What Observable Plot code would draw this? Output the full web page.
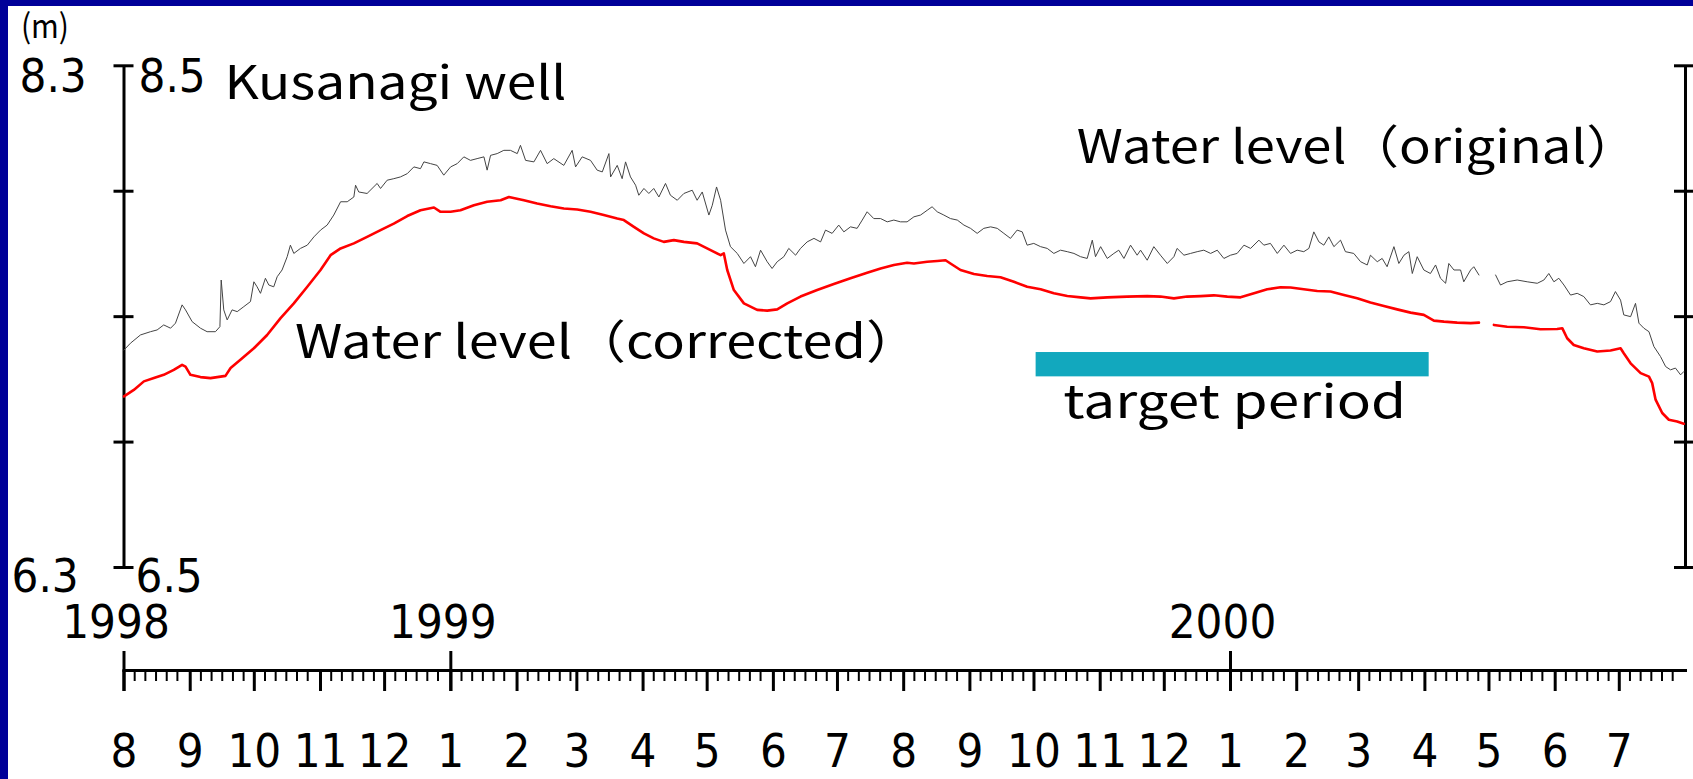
<!DOCTYPE html>
<html>
<head>
<meta charset="utf-8">
<script src="https://cdn.jsdelivr.net/npm/d3@7"></script>
<script src="https://cdn.jsdelivr.net/npm/@observablehq/plot@0.6"></script>
<style>
  html, body { margin: 0; padding: 0; background: #000099; }
  #frame { width: 1693px; height: 779px; box-sizing: border-box; padding: 6px 0 0 8px; background: #000099; overflow: hidden; }
  #chart svg { display: block; background: #ffffff; }
</style>
</head>
<body>
<div id="frame"><div id="chart"></div></div>
<script>
// ---------------- data ----------------
const startDate = "1998-08-01";
const endDate = "2000-08-01";
const yDomain = [6.5, 8.5];
const yTicks = [6.5, 7.0, 7.5, 8.0, 8.5];
const yLabelValues = [8.5, 6.5];
const yLabelsInner = ["8.5", "6.5"];
const yLabelsOuter = ["8.3", "6.3"];
const unitLabel = "(m)";

const yearTickDates = ["1998-08-01", "1999-01-01", "2000-01-01"];
const yearLabels = ["1998", "1999", "2000"];
const monthTickDates = ["1998-08-01","1998-09-01","1998-10-01","1998-11-01","1998-12-01",
  "1999-01-01","1999-02-01","1999-03-01","1999-04-01","1999-05-01","1999-06-01","1999-07-01",
  "1999-08-01","1999-09-01","1999-10-01","1999-11-01","1999-12-01",
  "2000-01-01","2000-02-01","2000-03-01","2000-04-01","2000-05-01","2000-06-01","2000-07-01"];
const monthLabels = ["8","9","10","11","12","1","2","3","4","5","6","7",
  "8","9","10","11","12","1","2","3","4","5","6","7"];
const minorTickDaysOfMonth = [6, 11, 16, 21, 26];

// [days since 1998-08-01, water level (m)]
const originalSeries = [
[0,7.367],[3.0,7.394],[7.7,7.427],[12.4,7.440],[15.5,7.447],[18.6,7.467],[21.8,7.454],[24.1,7.474],[27.2,7.547],[28.8,7.527],[31.9,7.480],[35.8,7.454],[38.9,7.440],[42.8,7.440],[44.9,7.460],[45.5,7.646],[46.7,7.527],[48.3,7.487],[50.6,7.527],[53.0,7.520],[56.1,7.540],[59.2,7.560],[60.8,7.639],[62.3,7.619],[63.9,7.593],[66.2,7.653],[67.8,7.626],[70.1,7.619],[71.7,7.659],[74.0,7.686],[76.4,7.739],[77.9,7.785],[79.5,7.752],[82.6,7.772],[85.8,7.785],[88.9,7.818],[92.0,7.845],[95.1,7.865],[98.2,7.905],[101.4,7.958],[104.5,7.958],[107.6,7.977],[108.4,8.024],[109.9,7.997],[113.8,7.991],[118.5,8.031],[120.1,8.011],[123.2,8.044],[126.3,8.050],[129.4,8.057],[132.6,8.070],[135.7,8.097],[138.8,8.090],[140.4,8.117],[143.5,8.110],[146.6,8.103],[149.7,8.064],[152.9,8.097],[156.0,8.110],[159.1,8.137],[162.2,8.123],[165.3,8.130],[168.5,8.137],[170.0,8.084],[171.6,8.143],[174.7,8.150],[177.8,8.163],
[180.9,8.163],[184.1,8.150],[185.6,8.183],[188.0,8.123],[191.9,8.117],[195.0,8.163],[198.1,8.110],[201.2,8.130],[205.9,8.103],[209.8,8.163],[211.4,8.097],[214.5,8.137],[218.4,8.123],[221.5,8.084],[223.9,8.077],[227.0,8.150],[227.8,8.057],[230.9,8.103],[233.2,8.050],[234.8,8.117],[237.1,8.057],[239.5,8.024],[241.0,7.984],[243.4,8.011],[245.7,7.991],[248.0,8.011],[250.4,7.977],[253.5,8.031],[255.8,7.984],[259.0,7.964],[262.1,7.991],[266.0,8.004],[268.3,7.964],[270.7,7.997],[273.8,7.905],[275.4,7.944],[277.4,8.017],[279.3,7.964],[281.6,7.845],[283.9,7.779],[287.1,7.752],[290.2,7.712],[293.3,7.739],[295.6,7.699],[298.0,7.765],[301.1,7.719],[303.4,7.692],[305.8,7.719],[308.9,7.739],[311.2,7.772],[314.4,7.745],[316.7,7.772],[319.8,7.798],[323.0,7.812],[326.1,7.798],[328.4,7.845],[331.5,7.832],[334.6,7.865],[337.0,7.838],[340.1,7.858],[343.2,7.852],[345.6,7.885],[347.9,7.918],[351.0,7.891],[354.2,7.891],[357.3,7.878],[360.4,7.885],[363.5,7.878],
[366.6,7.878],[369.8,7.898],[372.9,7.905],[376.0,7.924],[378.3,7.938],[380.7,7.918],[383.8,7.905],[386.9,7.891],[390.1,7.885],[393.2,7.865],[396.3,7.852],[399.4,7.832],[402.5,7.852],[405.7,7.858],[408.8,7.852],[411.9,7.832],[415.0,7.812],[418.1,7.845],[420.5,7.838],[422.8,7.785],[425.9,7.792],[429.1,7.779],[432.2,7.772],[435.3,7.752],[438.4,7.765],[441.6,7.759],[444.7,7.752],[447.8,7.739],[450.9,7.732],[453.3,7.805],[454.8,7.739],[457.2,7.779],[460.3,7.732],[463.4,7.752],[465.7,7.765],[468.1,7.732],[471.2,7.785],[474.3,7.745],[475.9,7.765],[479.0,7.725],[482.1,7.779],[485.2,7.745],[488.4,7.712],[491.5,7.739],[493.0,7.772],[496.2,7.745],[499.3,7.752],[502.4,7.759],[505.5,7.765],[508.7,7.752],[511.8,7.765],[514.9,7.732],[518.0,7.745],[521.1,7.752],[524.3,7.785],[527.4,7.772],[531.3,7.805],[533.6,7.785],[536.7,7.792],[539.9,7.752],[543.0,7.785],[546.1,7.752],
[549.2,7.765],[552.3,7.759],[554.7,7.772],[557.0,7.838],[559.4,7.798],[561.7,7.785],[564.0,7.818],[566.4,7.779],[569.5,7.805],[571.8,7.759],[575.7,7.752],[578.9,7.719],[582.0,7.706],[583.5,7.745],[586.7,7.719],[589.0,7.732],[591.3,7.699],[594.5,7.779],[596.8,7.712],[599.2,7.745],[601.5,7.759],[603.1,7.672],[605.4,7.739],[608.5,7.686],[611.6,7.672],[614.0,7.706],[616.3,7.653],[618.7,7.633],[620.2,7.712],[622.6,7.686],[625.7,7.686],[627.2,7.639],[630.4,7.686],[631.9,7.699],[634.3,7.666],[638,null],[642.1,7.666],[644.4,7.626],[647.5,7.639],[652.2,7.646],[656.9,7.639],[661.6,7.633],[664.7,7.646],[667.0,7.672],[669.4,7.639],[671.7,7.653],[674.1,7.626],[677.2,7.586],[680.3,7.593],[683.4,7.580],[686.5,7.547],[689.7,7.553],[692.8,7.547],[695.9,7.560],[698.2,7.600],[700.6,7.566],[702.1,7.507],[705.3,7.500],[707.6,7.553],[709.2,7.474],[711.5,7.454],[713.9,7.440],[716.2,7.381],[719.3,7.341],[721.7,7.301],[724.0,7.288],[726.3,7.295],[728.7,7.268],[730.2,7.281]
];

const correctedSeries = [
[0,7.182],[4.6,7.208],[9.3,7.242],[14.0,7.255],[18.6,7.268],[23.3,7.288],[27.2,7.308],[28.8,7.301],[31.1,7.268],[35.8,7.259],[40.5,7.255],[45.2,7.261],[47.5,7.264],[49.9,7.295],[54.5,7.328],[60.8,7.374],[67.0,7.427],[73.3,7.494],[79.5,7.553],[85.8,7.619],[92.0,7.686],[96.7,7.745],[101.4,7.772],[107.6,7.792],[113.8,7.818],[120.1,7.845],[126.3,7.871],[132.6,7.901],[138.8,7.924],[145.1,7.935],[148.2,7.918],[152.9,7.918],[157.5,7.924],[163.8,7.944],[170.0,7.958],[176.3,7.964],[180.2,7.977],[187.2,7.964],[193.4,7.951],[199.7,7.940],[205.9,7.931],[212.2,7.927],[218.4,7.918],[224.6,7.905],[230.9,7.891],[234.0,7.885],[238.7,7.858],[243.4,7.832],[248.0,7.812],[252.7,7.798],[257.4,7.805],[262.1,7.798],[268.3,7.792],[274.6,7.765],[279.3,7.745],[280.8,7.752],[282.4,7.686],[285.5,7.606],[290.2,7.553],[296.4,7.527],[301.1,7.524],[305.8,7.529],[310.5,7.553],[316.7,7.580],[324.5,7.606],[332.3,7.630],[340.1,7.653],[347.9,7.675],[354.2,7.692],[360.4,7.706],[366.6,7.715],[369.8,7.712],[376.0,7.719],[380.7,7.722],[384.6,7.725],[386.9,7.712],[391.6,7.686],[397.9,7.670],[404.1,7.662],[410.3,7.657],[416.6,7.639],[422.8,7.619],[429.1,7.609],[435.3,7.593],[441.6,7.582],[447.8,7.577],[452.5,7.573],[460.3,7.577],[469.6,7.580],[479.0,7.582],[485.2,7.580],[491.5,7.573],[497.7,7.580],[504.0,7.582],[510.2,7.585],[516.5,7.580],[522.7,7.577],[529.0,7.593],[535.2,7.609],[541.4,7.617],[546.1,7.616],[552.3,7.609],[558.6,7.602],[564.8,7.600],[571.1,7.586],[577.3,7.573],[583.5,7.556],[589.8,7.542],[596.0,7.529],[602.3,7.516],[608.5,7.507],[613.2,7.484],[617.9,7.480],[624.1,7.476],[630.4,7.474],[634.3,7.476],[638,null],[641.3,7.467],[647.5,7.460],[655.3,7.458],[663.1,7.450],[670.9,7.451],[673.3,7.454],[675.6,7.414],[678.7,7.387],[683.4,7.374],[689.7,7.361],[695.9,7.365],[700.6,7.374],[702.1,7.354],[705.3,7.314],[710.0,7.275],[713.9,7.261],[715.4,7.235],[717.0,7.169],[720.1,7.116],[723.2,7.089],[727.1,7.082],[730.2,7.073]
];

const targetPeriod = ["1999-10-02", "2000-04-03"];
const targetBandLevels = [7.26, 7.357];

const annotationTexts = ["Kusanagi well", "Water level（original）", "Water level（corrected）", "target period"];
const annotationDates = ["1998-09-17", "1999-10-21", "1998-10-20", "2000-01-03"];
const annotationLevels = [8.425, 8.17, 7.393, 7.154];
const unitDate = "1998-06-25";
const unitLevel = 8.652;

// ---------------- build ----------------
const x0 = new Date(startDate), x1 = new Date(endDate);
const toDate = d => new Date(+x0 + d * 864e5);
const original = originalSeries.map(([d, v]) => ({date: toDate(d), level: v}));
const corrected = correctedSeries.map(([d, v]) => ({date: toDate(d), level: v}));
const monthDates = monthTickDates.map(s => new Date(s));
const yearDates = yearTickDates.map(s => new Date(s));
const minorDates = d3.utcDay.range(x0, x1).filter(d => minorTickDaysOfMonth.includes(d.getUTCDate()));
const months = monthDates.map((d, i) => ({date: d, label: monthLabels[i]}));
const years = yearDates.map((d, i) => ({date: d, label: yearLabels[i]}));
const yLabelRows = yLabelValues.map((v, i) => ({level: v, inner: yLabelsInner[i], outer: yLabelsOuter[i]}));
const annotations = annotationTexts.map((t, i) => ({text: t, date: new Date(annotationDates[i]), level: annotationLevels[i]}));
const unitRows = [{text: unitLabel, date: new Date(unitDate), level: unitLevel}];

const digitFont = "'Liberation Sans Narrow', 'Arial Narrow', 'DejaVu Sans Condensed', sans-serif";
const textFont = "'Noto Sans CJK JP', 'Noto Sans', sans-serif";
const noLabel = () => "";
const topRows = yLabelRows.filter(d => d.level === yDomain[1]);
const bottomRows = yLabelRows.filter(d => d.level === yDomain[0]);

const chart = Plot.plot({
  width: 1685, height: 773,
  marginLeft: 115.5, marginRight: 8, marginTop: 59.3, marginBottom: 109,
  style: {background: "#ffffff", color: "#000000", fontFamily: textFont, overflow: "visible"},
  x: {type: "utc", domain: [x0, x1], axis: null},
  y: {domain: yDomain, range: [561, 59.3], axis: null},
  marks: [
    // target period bar
    Plot.rect([targetPeriod], {x1: d => new Date(d[0]), x2: d => new Date(d[1]), y1: () => targetBandLevels[0], y2: () => targetBandLevels[1], fill: "#12a8be"}),
    // y axes
    Plot.ruleX([x0], {y1: yDomain[0], y2: yDomain[1], stroke: "#000", strokeWidth: 3}),
    Plot.ruleX([x1], {y1: yDomain[0], y2: yDomain[1], stroke: "#000", strokeWidth: 3}),
    Plot.axisY({anchor: "left", ticks: yTicks, tickSize: 20, dx: 10, tickFormat: noLabel, strokeWidth: 3, label: null}),
    Plot.axisY({anchor: "right", ticks: yTicks, tickSize: 19, dx: -12, tickFormat: noLabel, strokeWidth: 3, label: null}),
    // x axis
    Plot.frame({anchor: "bottom", stroke: "#000", strokeWidth: 3}),
    Plot.axisX({anchor: "bottom", ticks: minorDates, tickSize: 11, tickFormat: noLabel, strokeWidth: 2, label: null}),
    Plot.axisX({anchor: "bottom", ticks: monthDates, tickSize: 21, tickFormat: noLabel, strokeWidth: 3, label: null}),
    Plot.axisX({anchor: "bottom", ticks: yearDates, tickSize: 40, dy: -19, tickFormat: noLabel, strokeWidth: 3, label: null}),
    Plot.text(years, {x: "date", text: "label", frameAnchor: "bottom", dy: -33, dx: -8, fontSize: 47, fontFamily: digitFont, fill: "#000"}),
    Plot.text(months, {x: "date", text: "label", frameAnchor: "bottom", dy: 96, fontSize: 47, fontFamily: digitFont, fill: "#000"}),
    // y labels
    Plot.text(topRows, {x: () => x0, y: "level", text: "inner", textAnchor: "start", dx: 14.5, dy: 11, fontSize: 47, fontFamily: digitFont, fill: "#000"}),
    Plot.text(topRows, {x: () => x0, y: "level", text: "outer", textAnchor: "start", dx: -104.5, dy: 11, fontSize: 47, fontFamily: digitFont, fill: "#000"}),
    Plot.text(bottomRows, {x: () => x0, y: "level", text: "inner", textAnchor: "start", dx: 11.5, dy: 9, fontSize: 47, fontFamily: digitFont, fill: "#000"}),
    Plot.text(bottomRows, {x: () => x0, y: "level", text: "outer", textAnchor: "start", dx: -112.5, dy: 9, fontSize: 47, fontFamily: digitFont, fill: "#000"}),
    Plot.text(unitRows, {x: "date", y: "level", text: "text", fontSize: 33, letterSpacing: 3, fill: "#000"}),
    // series
    Plot.line(original, {x: "date", y: "level", stroke: "#444444", strokeWidth: 1}),
    Plot.line(corrected, {x: "date", y: "level", stroke: "#ff0000", strokeWidth: 2.6}),
    // annotations
    Plot.text(annotations.slice(0, 3), {x: "date", y: "level", text: "text", textAnchor: "start", fontSize: 46, fill: "#000"}),
    Plot.text(annotations.slice(3), {x: "date", y: "level", text: "text", textAnchor: "middle", fontSize: 46, fill: "#000"})
  ]
});

// fit annotation widths to the reference
const fitWidths = new Map([["Kusanagi well", 342], ["Water level（original）", 562], ["Water level（corrected）", 625], ["target period", 343], ["(m)", 48]]);
d3.select(chart).selectAll("text").each(function() {
  const w = fitWidths.get(this.textContent);
  if (w) { this.setAttribute("textLength", w); this.setAttribute("lengthAdjust", "spacingAndGlyphs"); }
});
document.getElementById("chart").appendChild(chart);
</script>
</body>
</html>
